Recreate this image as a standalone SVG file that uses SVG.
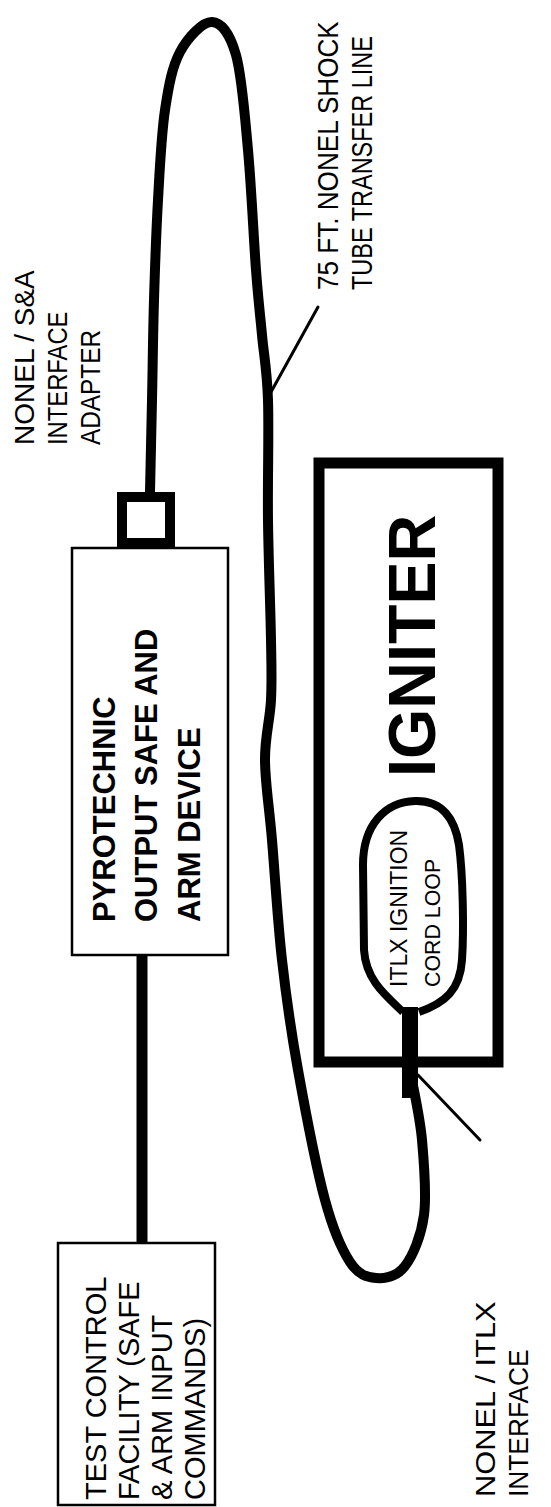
<svg xmlns="http://www.w3.org/2000/svg" width="551" height="1507" viewBox="0 0 551 1507">
<style>
.box{fill:#fff;stroke:#000;stroke-width:2.5}
.txt{font-family:"Liberation Sans",Arial,sans-serif;font-size:29px;fill:#000}
.bold{font-weight:bold}
.tube{fill:none;stroke:#000;stroke-width:10;stroke-linecap:round;stroke-linejoin:round}
.lead{fill:none;stroke:#000;stroke-width:3;stroke-linecap:round}
</style>
<rect width="551" height="1507" fill="#fff"/>
<g id="connectors">
<line x1="142" y1="945" x2="142" y2="1243" stroke="#000" stroke-width="11"/>
<path class="tube" d="M150,492 C150.3,476.7 151.3,432 152,400 C152.7,368 153,333.3 154,300 C155,266.7 156.2,231.7 158,200 C159.8,168.3 161.3,134.7 165,110 C168.7,85.3 172.2,66.7 180,52 C187.8,37.3 202.7,21.5 212,22 C221.3,22.5 230,33.7 236,55 C242,76.3 244.7,114.2 248,150 C251.3,185.8 253.7,239.2 256,270 C258.3,300.8 260,313.3 262,335 C264,356.7 267,369.2 268,400 C269,430.8 267.5,480 268,520 C268.5,560 270.5,610 271,640 C271.5,670 272,680 271,700 C270,720 264.8,736.7 265,760 C265.2,783.3 269.2,806.7 272,840 C274.8,873.3 277.7,921.7 282,960 C286.3,998.3 290.8,1030 298,1070 C305.2,1110 316.3,1168 325,1200 C333.7,1232 341.5,1249 350,1262 C358.5,1275 366.8,1277.3 376,1278 C385.2,1278.7 397,1276.5 405,1266 C413,1255.5 421.2,1236 424,1215 C426.8,1194 424,1162.5 422,1140 C420,1117.5 413.7,1090 412,1080 L410,1050"/>
<line class="lead" x1="318" y1="307" x2="271" y2="392"/>
<line class="lead" x1="418" y1="1075" x2="480" y2="1140"/>
</g>
<g id="test-control">
<rect class="box" x="58" y="1243" width="157" height="262"/>
<text class="txt" transform="translate(106,1500) rotate(-90)">TEST CONTROL</text>
<text class="txt" transform="translate(139,1500) rotate(-90)">FACILITY  (SAFE</text>
<text class="txt" transform="translate(172,1500) rotate(-90)">&amp; ARM INPUT</text>
<text class="txt" transform="translate(205,1500) rotate(-90)">COMMANDS)</text>
</g>
<g id="pyro-safe-arm">
<rect class="box" x="72" y="548" width="156" height="407"/>
<text class="txt bold" style="font-size:31px" transform="translate(115,922) rotate(-90)">PYROTECHNIC</text>
<text class="txt bold" style="font-size:31px" transform="translate(157,922) rotate(-90)">OUTPUT SAFE AND</text>
<text class="txt bold" style="font-size:31px" transform="translate(200,922) rotate(-90)">ARM DEVICE</text>
</g>
<g id="adapter">
<rect x="122" y="497" width="48" height="46" fill="#fff" stroke="#000" stroke-width="10"/>
</g>
<g id="igniter">
<rect x="319" y="463" width="179" height="599" fill="none" stroke="#000" stroke-width="11"/>
<text class="txt bold" style="font-size:66px" transform="translate(435,777) rotate(-90) scale(0.98,1)">IGNITER</text>
</g>
<g id="itlx-loop">
<path d="M403,1012 C385,995 366,980 364,950 L363,865 C363,825 385,802 415,801 C443,800 455,820 459,845 C463,875 464,930 462,960 C460,990 445,1003 419,1012" fill="none" stroke="#000" stroke-width="8"/>
<text class="txt" style="font-size:23px" transform="translate(407,987) rotate(-90)">ITLX IGNITION</text>
<text class="txt" style="font-size:23px" transform="translate(440,987) rotate(-90) scale(0.93,1)">CORD LOOP</text>
</g>
<g id="interface">
<rect x="402" y="1007" width="16" height="91" fill="#000"/>
</g>
<g id="labels">
<text class="txt" style="font-size:28px" transform="translate(34,445) rotate(-90)">NONEL / S&amp;A</text>
<text class="txt" style="font-size:28px" transform="translate(67,445) rotate(-90) scale(0.85,1)">INTERFACE</text>
<text class="txt" style="font-size:28px" transform="translate(100,445) rotate(-90) scale(0.87,1)">ADAPTER</text>
<text class="txt" transform="translate(338,290) rotate(-90) scale(0.9,1)">75 FT.  NONEL SHOCK</text>
<text class="txt" transform="translate(372,290) rotate(-90) scale(0.81,1)">TUBE TRANSFER LINE</text>
<text class="txt" style="font-size:28px" transform="translate(495,1497) rotate(-90) scale(1.1,1)">NONEL / ITLX</text>
<text class="txt" style="font-size:28px" transform="translate(528,1497) rotate(-90) scale(0.94,1)">INTERFACE</text>
</g>
</svg>
